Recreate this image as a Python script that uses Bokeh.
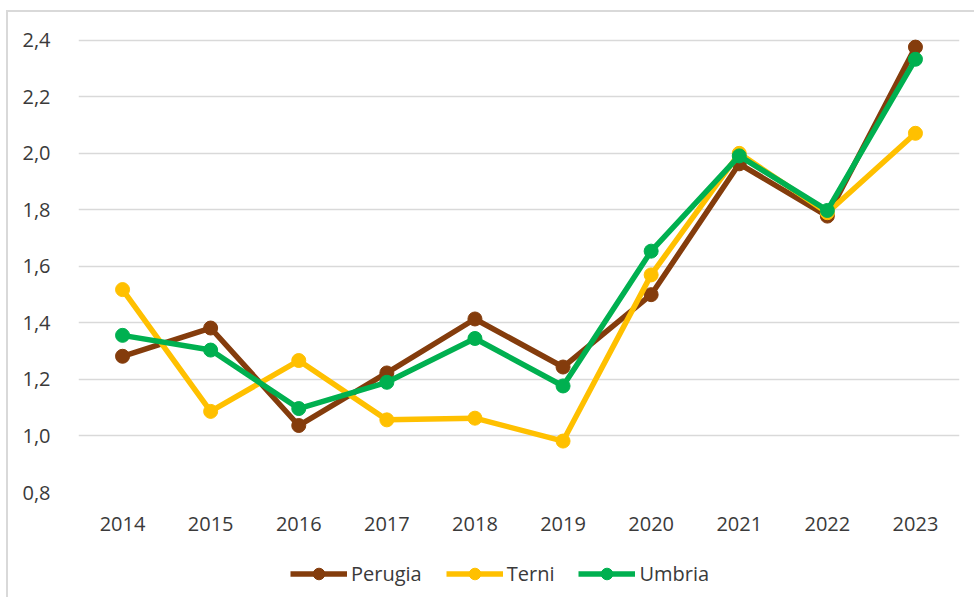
from bokeh.plotting import figure
from bokeh.layouts import column
from bokeh.models import (FactorRange, Range1d, FixedTicker, CustomJSTickFormatter,
                          Legend, LegendItem, ColumnDataSource)
from bokeh.embed import file_html
from bokeh.resources import INLINE

years = ["2014", "2015", "2016", "2017", "2018", "2019", "2020", "2021", "2022", "2023"]
perugia = [1.282, 1.382, 1.037, 1.223, 1.414, 1.244, 1.500, 1.963, 1.778, 2.376]
terni   = [1.518, 1.087, 1.267, 1.057, 1.063, 0.982, 1.570, 2.000, 1.790, 2.071]
umbria  = [1.356, 1.304, 1.097, 1.190, 1.345, 1.177, 1.654, 1.991, 1.798, 2.333]
y_ticks = [0.8, 1.0, 1.2, 1.4, 1.6, 1.8, 2.0, 2.2, 2.4]

series = [("Perugia", perugia, "#843C0C"),
          ("Terni", terni, "#FFC000"),
          ("Umbria", umbria, "#00B050")]

FONT = "Open Sans"
TXT = "#3a3a3a"

p = figure(width=966, height=535, x_range=FactorRange(*years, range_padding=0),
           y_range=Range1d(0.8, 2.41), output_backend="svg", toolbar_location=None,
           min_border_left=70, min_border_right=15, min_border_top=25, min_border_bottom=55)
p.outline_line_color = None
p.xgrid.grid_line_color = None
p.ygrid.grid_line_color = "#d9d9d9"
p.ygrid.grid_line_width = 1.5

p.yaxis.ticker = FixedTicker(ticks=y_ticks)
p.yaxis.formatter = CustomJSTickFormatter(code="return tick.toFixed(1).replace('.', ',');")
for ax in (p.xaxis[0], p.yaxis[0]):
    ax.axis_line_color = None
    ax.major_tick_line_color = None
    ax.minor_tick_line_color = None
    ax.major_label_text_font = FONT
    ax.major_label_text_font_size = "20px"
    ax.major_label_text_color = TXT
p.yaxis.major_label_standoff = 22
p.xaxis.major_label_standoff = 18

# legend strip: same series, drawn outside its visible y range so only the legend shows
p2 = figure(width=966, height=50, x_range=FactorRange(*years, range_padding=0),
            y_range=Range1d(10, 11), output_backend="svg", toolbar_location=None,
            x_axis_type=None, y_axis_type=None,
            min_border_left=70, min_border_right=15, min_border_top=0, min_border_bottom=0)
p2.outline_line_color = None
p2.grid.grid_line_color = None

items = []
for name, vals, col in series:
    src = ColumnDataSource(dict(x=years, y=vals))
    p.line("x", "y", source=src, line_color=col, line_width=5.5)
    p.scatter("x", "y", source=src, size=14, fill_color=col, line_color=col)
    l2 = p2.line("x", "y", source=src, line_color=col, line_width=5.5)
    s2 = p2.scatter("x", "y", source=src, size=14, fill_color=col, line_color=col)
    items.append(LegendItem(label=name, renderers=[l2, s2]))

legend = Legend(items=items, orientation="horizontal", location=(212, 9),
                glyph_width=57, glyph_height=29, label_standoff=4, spacing=24,
                label_text_font=FONT, label_text_font_size="20px", label_text_color=TXT,
                border_line_color=None, background_fill_alpha=0, padding=0, margin=0)
p2.add_layout(legend)

layout = column(p, p2, spacing=0)
layout.styles = {"border-left": "2px solid #d9d9d9", "border-top": "2px solid #d9d9d9",
                 "margin-left": "6px", "margin-top": "10px"}

open("out.html", "w").write(file_html(layout, INLINE))
